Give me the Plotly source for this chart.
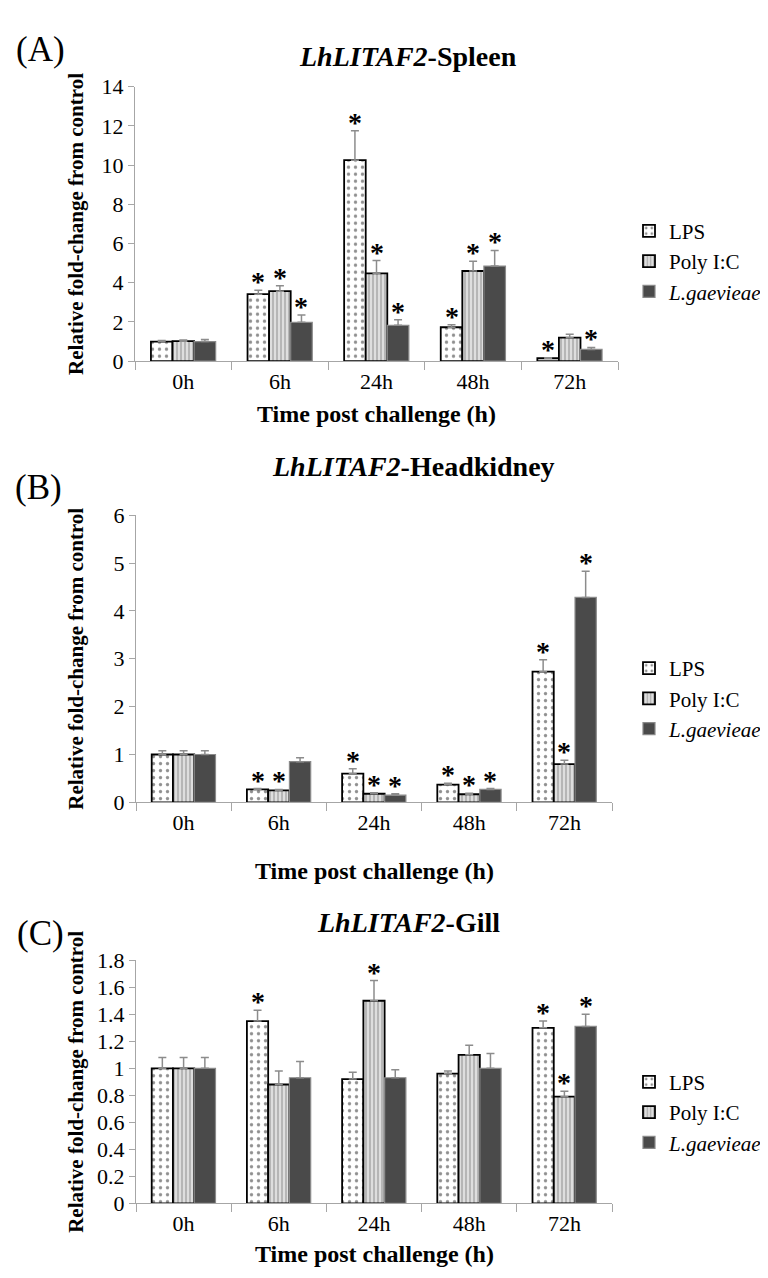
import plotly.graph_objects as go

categories = ["0h", "6h", "24h", "48h", "72h"]
series_names = ["LPS", "Poly I:C", "<i>L.gaevieae</i>"]

# Panel A - Spleen
spleen_lps = [1.0, 3.42, 10.25, 1.73, 0.15]
spleen_lps_err = [0.05, 0.2, 1.5, 0.13, 0.02]
spleen_poly = [1.02, 3.57, 4.48, 4.6, 1.2]
spleen_poly_err = [0.06, 0.28, 0.65, 0.5, 0.17]
spleen_lg = [1.0, 1.98, 1.83, 4.85, 0.6]
spleen_lg_err = [0.1, 0.38, 0.28, 0.8, 0.1]
spleen_sig_lps = [0, 1, 1, 1, 1]
spleen_sig_poly = [0, 1, 1, 1, 0]
spleen_sig_lg = [0, 1, 1, 1, 1]

# Panel B - Headkidney
hk_lps = [1.0, 0.27, 0.6, 0.37, 2.73]
hk_lps_err = [0.08, 0.02, 0.1, 0.03, 0.25]
hk_poly = [1.0, 0.25, 0.18, 0.17, 0.8]
hk_poly_err = [0.08, 0.02, 0.02, 0.02, 0.08]
hk_lg = [1.0, 0.85, 0.15, 0.27, 4.28]
hk_lg_err = [0.08, 0.08, 0.03, 0.02, 0.55]
hk_sig_lps = [0, 1, 1, 1, 1]
hk_sig_poly = [0, 1, 1, 1, 1]
hk_sig_lg = [0, 0, 1, 1, 1]

# Panel C - Gill
gill_lps = [1.0, 1.35, 0.92, 0.96, 1.3]
gill_lps_err = [0.08, 0.08, 0.05, 0.02, 0.05]
gill_poly = [1.0, 0.88, 1.5, 1.1, 0.79]
gill_poly_err = [0.08, 0.1, 0.15, 0.07, 0.04]
gill_lg = [1.0, 0.93, 0.93, 1.0, 1.31]
gill_lg_err = [0.08, 0.12, 0.06, 0.11, 0.09]
gill_sig_lps = [0, 1, 0, 0, 1]
gill_sig_poly = [0, 0, 1, 0, 1]
gill_sig_lg = [0, 0, 0, 0, 1]

x_title = "<b>Time post challenge (h)</b>"
y_title = "<b>Relative fold-change from control</b>"

W, H = 768, 1278
FONT = "Liberation Serif"
AX = "#a6a6a6"
BARGAP = 0.33


def fx(px):
    return px / W


def fy(px):
    return 1 - px / H


panels = [
    dict(label="(A)", title="<b><i>LhLITAF2</i>-Spleen</b>",
         vals=[spleen_lps, spleen_poly, spleen_lg],
         errs=[spleen_lps_err, spleen_poly_err, spleen_lg_err],
         sigs=[spleen_sig_lps, spleen_sig_poly, spleen_sig_lg],
         ymax=14, dtick=2, xpx=(127, 610), ypx=(68, 348),
         label_xy=(32, 30), title_xy=(400, 37), xt_y=402, legend_mid=246),
    dict(label="(B)", title="<b><i>LhLITAF2</i>-Headkidney</b>",
         vals=[hk_lps, hk_poly, hk_lg],
         errs=[hk_lps_err, hk_poly_err, hk_lg_err],
         sigs=[hk_sig_lps, hk_sig_poly, hk_sig_lg],
         ymax=6, dtick=1, xpx=(128, 604), ypx=(505, 798),
         label_xy=(30, 477), title_xy=(405, 455), xt_y=868, legend_mid=692),
    dict(label="(C)", title="<b><i>LhLITAF2</i>-Gill</b>",
         vals=[gill_lps, gill_poly, gill_lg],
         errs=[gill_lps_err, gill_poly_err, gill_lg_err],
         sigs=[gill_sig_lps, gill_sig_poly, gill_sig_lg],
         ymax=1.8, dtick=0.2, xpx=(128, 604), ypx=(959, 1207),
         label_xy=(32, 932), title_xy=(400, 920), xt_y=1259, legend_mid=1114),
]

styles = [
    dict(color="white", line=dict(color="black", width=1.8),
         pattern=dict(shape=".", bgcolor="white", fgcolor="#222222", size=7, solidity=0.18)),
    dict(color="#cfcfcf", line=dict(color="black", width=1.8),
         pattern=dict(shape="|", bgcolor="#dedede", fgcolor="#7a7a7a", size=4, solidity=0.4)),
    dict(color="#4a4a4a", line=dict(color="#8a8a8a", width=1.2)),
]

fig = go.Figure()
annotations = []
layout = dict(
    width=W, height=H, margin=dict(l=0, r=0, t=0, b=0),
    paper_bgcolor="white", plot_bgcolor="white",
    barmode="group", bargap=BARGAP, bargroupgap=0,
    font=dict(family=FONT, color="black", size=22),
    showlegend=True,
)

bw = (1 - BARGAP) / 3

for p_i, p in enumerate(panels):
    sfx = "" if p_i == 0 else str(p_i + 1)
    xa, ya = "x" + sfx, "y" + sfx
    leg = "legend" + sfx
    for k in range(3):
        fig.add_trace(go.Bar(
            x=categories, y=p["vals"][k], name=series_names[k],
            xaxis=xa, yaxis=ya, legend=leg, legendgroup=f"{p_i}_{k}",
            marker=styles[k],
            error_y=dict(type="data", symmetric=False, array=p["errs"][k],
                         arrayminus=[0] * len(categories), color="#8c8c8c",
                         thickness=1.5, width=4),
        ))
        for i, s in enumerate(p["sigs"][k]):
            if s:
                annotations.append(dict(
                    xref=xa, yref=ya, x=i + (k - 1) * bw,
                    y=p["vals"][k][i] + p["errs"][k][i],
                    text="<b>*</b>", showarrow=False, yanchor="bottom",
                    yshift=-9, font=dict(family=FONT, size=28, color="black")))
    layout["xaxis" + sfx] = dict(
        domain=[fx(p["xpx"][0]), fx(p["xpx"][1])], anchor=ya, type="category",
        showline=True, linecolor=AX, linewidth=1, ticks="outside",
        tickson="boundaries", ticklen=8, tickcolor=AX,
        tickfont=dict(family=FONT, size=22), showgrid=False)
    layout["yaxis" + sfx] = dict(
        domain=[fy(p["ypx"][1]), fy(p["ypx"][0])], anchor=xa,
        range=[0, p["ymax"]], dtick=p["dtick"], showline=True, linecolor=AX,
        linewidth=1, ticks="outside", ticklen=6, tickcolor=AX,
        tickfont=dict(family=FONT, size=22), showgrid=False, zeroline=False)
    layout[leg] = dict(
        x=fx(621), xanchor="left", y=fy(p["legend_mid"]), yanchor="middle",
        xref="paper", yref="paper", bgcolor="rgba(0,0,0,0)",
        font=dict(family=FONT, size=21), traceorder="normal",
        tracegroupgap=5, itemwidth=30)
    # axis titles
    annotations.append(dict(
        xref="paper", yref="paper", x=fx((p["xpx"][0] + p["xpx"][1]) / 2),
        y=fy(p["xt_y"]), text=x_title, showarrow=False, xanchor="center",
        yanchor="middle", font=dict(family=FONT, size=24)))
    annotations.append(dict(
        xref="paper", yref="paper", x=fx(68),
        y=fy((p["ypx"][0] + p["ypx"][1]) / 2), text=y_title, showarrow=False,
        textangle=-90, xanchor="center", yanchor="middle",
        font=dict(family=FONT, size=21)))
    # panel letter and title
    annotations.append(dict(
        xref="paper", yref="paper", x=fx(p["label_xy"][0]), y=fy(p["label_xy"][1]),
        text=p["label"], showarrow=False, xanchor="center", yanchor="middle",
        font=dict(family=FONT, size=35)))
    annotations.append(dict(
        xref="paper", yref="paper", x=fx(p["title_xy"][0]),
        y=fy(p["title_xy"][1]), text=p["title"], showarrow=False,
        xanchor="center", yanchor="middle", font=dict(family=FONT, size=28)))

layout["annotations"] = annotations
fig.update_layout(**layout)
fig.write_html("out.html")
